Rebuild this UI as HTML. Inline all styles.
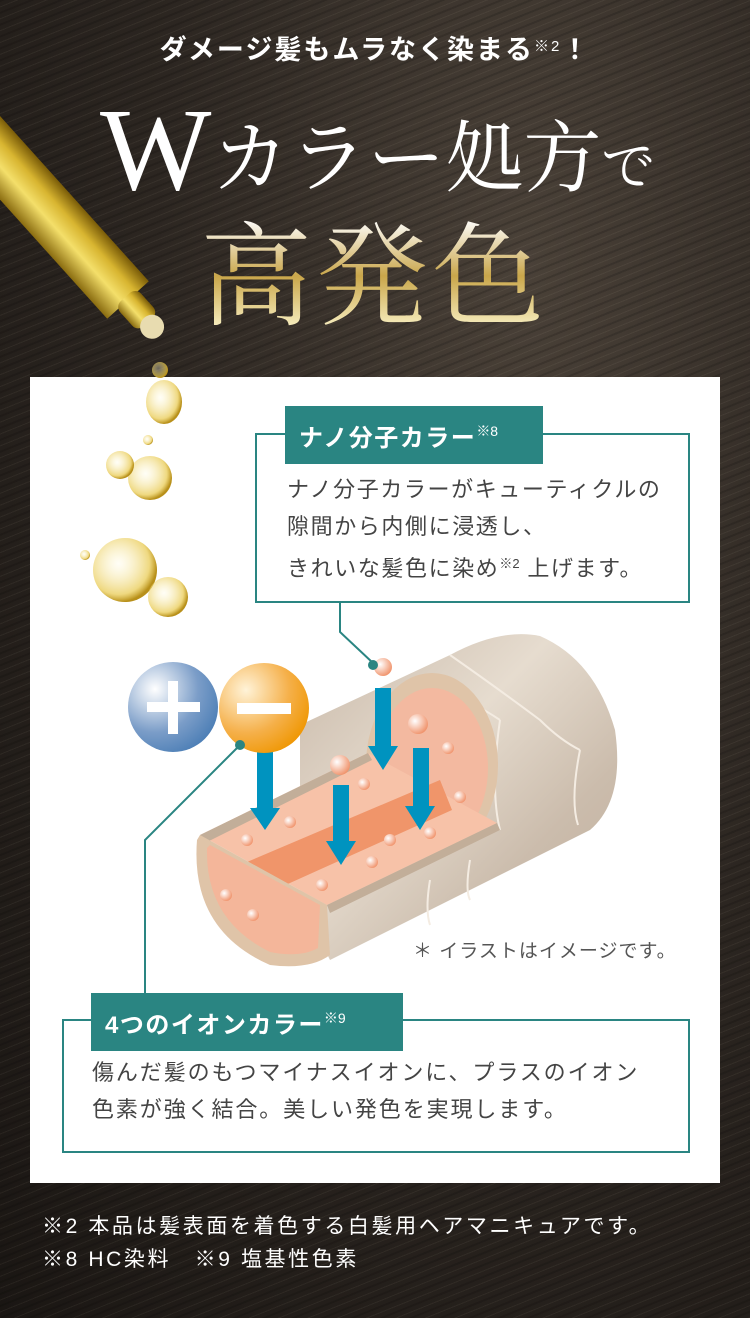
<!DOCTYPE html>
<html><head><meta charset="utf-8"><style>
*{margin:0;padding:0;box-sizing:border-box}
body{width:750px;height:1318px;overflow:hidden;position:relative;font-family:"Liberation Sans","Noto Sans CJK JP",sans-serif;
background:#241f1b;}
.bg{position:absolute;inset:0;background:
repeating-linear-gradient(-22deg,rgba(255,240,210,0.05) 0 1px,transparent 1px 5px,rgba(0,0,0,0.15) 5px 7px,transparent 7px 11px),
radial-gradient(ellipse at 70% 20%,#4a4138 0,#2c2621 50%,#1a1613 100%);}
.t1{position:absolute;top:28px;left:0;width:750px;text-align:center;color:#fff;font-weight:bold;font-size:27px;letter-spacing:2px}
.t1 small{font-size:15px;font-weight:normal;vertical-align:8px}
.t2{position:absolute;top:82px;left:100px;color:#fff;font-family:"Liberation Serif","Noto Serif CJK SC",serif;white-space:nowrap}
.t3{position:absolute;top:205px;left:200px;font-family:"Noto Serif CJK SC",serif;font-size:112px;letter-spacing:4px;
background:linear-gradient(#fff 10%,#c9a64a 55%,#f7eec0 95%);-webkit-background-clip:text;color:transparent;line-height:1.15}
.panel{position:absolute;left:30px;top:377px;width:690px;height:806px;background:#fff}
.box{position:absolute;border:2px solid #2a8582;background:#fff;color:#444;font-size:22px;line-height:37px;white-space:nowrap}
.tab{position:absolute;background:#2a8582;color:#fff;font-weight:bold;font-size:24px;letter-spacing:1.5px;padding:0 0 0 14px;line-height:50px;white-space:nowrap}
.tab small{font-size:14px;font-weight:normal;vertical-align:10px;letter-spacing:0}
.foot{position:absolute;left:42px;color:#fff;font-size:21px;letter-spacing:2.6px;white-space:nowrap}
</style></head><body>
<div class="bg"></div>
<div class="t1">ダメージ髪もムラなく染まる<small>※2</small>！</div>
<div class="t2"><span style="font-size:118px;vertical-align:-4px">W</span><span style="font-size:78px;font-family:'Noto Serif CJK SC',serif">カラー処方</span><span style="font-size:54px;font-family:'Noto Serif CJK SC',serif">で</span></div>
<div class="t3">高発色</div>

<div class="panel"></div>

<svg style="position:absolute;left:0;top:0" width="750" height="1318">
<defs>
<linearGradient id="gold" x1="0" y1="0" x2="1" y2="0"><stop offset="0" stop-color="#8a6c10"/><stop offset=".4" stop-color="#f4df6a"/><stop offset=".7" stop-color="#d8b530"/><stop offset="1" stop-color="#7a5c08"/></linearGradient>
<radialGradient id="bl" cx=".3" cy=".3" r=".8"><stop offset="0" stop-color="#fff"/><stop offset=".6" stop-color="#7b9dc8"/><stop offset="1" stop-color="#4a7db5"/></radialGradient>
<radialGradient id="or" cx=".3" cy=".3" r=".8"><stop offset="0" stop-color="#fff3d8"/><stop offset=".6" stop-color="#f5b04a"/><stop offset="1" stop-color="#ef9600"/></radialGradient>
<radialGradient id="pk" cx=".35" cy=".35" r=".7"><stop offset="0" stop-color="#fff"/><stop offset="1" stop-color="#f0926a"/></radialGradient>
<radialGradient id="bub" cx=".4" cy=".4" r=".6"><stop offset="0" stop-color="#fffbe0" stop-opacity=".3"/><stop offset=".8" stop-color="#e8c84a" stop-opacity=".7"/><stop offset="1" stop-color="#b8901a"/></radialGradient>
<linearGradient id="hair" x1="0" y1="0" x2="1" y2="1"><stop offset="0" stop-color="#c8b8a8"/><stop offset=".4" stop-color="#e6dccf"/><stop offset=".7" stop-color="#cbbcac"/><stop offset="1" stop-color="#bfae9c"/></linearGradient>
</defs>
<g transform="translate(128,300) rotate(-42)">
<rect x="-28" y="-280" width="56" height="280" fill="url(#gold)"/>
<rect x="-14" y="-4" width="28" height="34" rx="8" fill="url(#gold)"/>
<circle cx="0" cy="36" r="12" fill="#e8dcb0"/>
</g>
<ellipse cx="164" cy="402" rx="18" ry="22" fill="url(#bub)"/>
<circle cx="160" cy="370" r="8" fill="url(#bub)"/>
<circle cx="150" cy="478" r="22" fill="url(#bub)"/>
<circle cx="120" cy="465" r="14" fill="url(#bub)"/>
<circle cx="148" cy="440" r="5" fill="url(#bub)"/>
<circle cx="125" cy="570" r="32" fill="url(#bub)"/>
<circle cx="168" cy="597" r="20" fill="url(#bub)"/>
<circle cx="85" cy="555" r="5" fill="url(#bub)"/>
<path d="M300 725 L450 655 Q500 628 540 636 Q595 660 615 730 Q625 800 590 830 L330 960 L300 900 Z" fill="url(#hair)"/>
<g stroke="#f4ece2" stroke-width="2" fill="none">
<path d="M450 655 Q500 690 540 720 Q560 740 580 750"/><path d="M425 680 Q470 700 500 720"/>
<path d="M500 720 Q490 790 500 830"/><path d="M580 750 Q570 800 578 825"/><path d="M470 860 Q465 890 470 900"/><path d="M430 880 Q425 910 430 925"/>
</g>
<ellipse cx="432" cy="765" rx="66" ry="92" fill="#dfc4a8"/>
<ellipse cx="432" cy="768" rx="56" ry="80" fill="#f3b9a0"/>
<path d="M200 835 L368 753 L497 823 L327 905 Z" fill="#f7c2a8"/>
<path d="M200 835 L368 753 L372 760 L205 843 Z" fill="#c2ae99"/>
<path d="M327 905 L497 823 L500 830 L330 913 Z" fill="#c2ae99"/>
<path d="M247 862 L440 780 L452 810 L270 892 Z" fill="#f0956a"/>
<path d="M197 840 Q190 930 270 965 Q310 970 330 955 L327 905 L200 835 Z" fill="#dfc4a8"/>
<path d="M207 848 Q205 920 270 952 Q300 958 318 948 L320 905 L210 845 Z" fill="#f4b69a"/>
<g fill="url(#pk)">
<circle cx="383" cy="667" r="9"/><circle cx="418" cy="724" r="10"/><circle cx="340" cy="765" r="10"/>
<circle cx="290" cy="822" r="6"/><circle cx="247" cy="840" r="6"/><circle cx="364" cy="784" r="6"/>
<circle cx="448" cy="748" r="6"/><circle cx="460" cy="797" r="6"/><circle cx="430" cy="833" r="6"/>
<circle cx="390" cy="840" r="6"/><circle cx="372" cy="862" r="6"/><circle cx="322" cy="885" r="6"/>
<circle cx="226" cy="895" r="6"/><circle cx="253" cy="915" r="6"/>
</g>
<g fill="#0093bf">
<rect x="257" y="752" width="16" height="58"/><path d="M250 808 L280 808 L265 830Z"/>
<rect x="375" y="688" width="16" height="60"/><path d="M368 746 L398 746 L383 770Z"/>
<rect x="413" y="748" width="16" height="60"/><path d="M405 806 L435 806 L420 830Z"/>
<rect x="333" y="785" width="16" height="58"/><path d="M326 841 L356 841 L341 865Z"/>
</g>
<circle cx="173" cy="707" r="45" fill="url(#bl)"/>
<rect x="147" y="702" width="53" height="10" fill="#fff"/><rect x="168" y="681" width="10" height="53" fill="#fff"/>
<circle cx="264" cy="708" r="45" fill="url(#or)"/>
<rect x="237" y="703" width="54" height="11" fill="#fff"/>
<g stroke="#2a8582" stroke-width="2" fill="none">
<path d="M340 602 L340 632 L373 663"/><path d="M240 745 L145 840 L145 1019"/>
</g>
<circle cx="373" cy="665" r="5" fill="#2a8582"/><circle cx="240" cy="745" r="5" fill="#2a8582"/>
<text x="413" y="957" font-size="19" letter-spacing="1" fill="#555" font-family="Liberation Sans,Noto Sans CJK JP,sans-serif">＊ イラストはイメージです。</text>
</svg>

<div class="box" style="left:255px;top:433px;width:435px;height:170px;padding:36px 0 0 30px;letter-spacing:1.6px">ナノ分子カラーがキューティクルの<br>隙間から内側に浸透し、<br>きれいな髪色に染め<span style="font-size:13px;vertical-align:8px;letter-spacing:0">※2</span> 上げます。</div>
<div class="tab" style="left:285px;top:406px;width:258px">ナノ分子カラー<small>※8</small></div>
<div class="box" style="left:62px;top:1019px;width:628px;height:134px;padding:33px 0 0 28px;letter-spacing:1.9px">傷んだ髪のもつマイナスイオンに、プラスのイオン<br>色素が強く結合。美しい発色を実現します。</div>
<div class="tab" style="left:91px;top:993px;width:312px">4つのイオンカラー<small>※9</small></div>

<div class="foot" style="top:1210px">※2 本品は髪表面を着色する白髪用ヘアマニキュアです。</div>
<div class="foot" style="top:1243px">※8 HC染料　※9 塩基性色素</div>
</body></html>
